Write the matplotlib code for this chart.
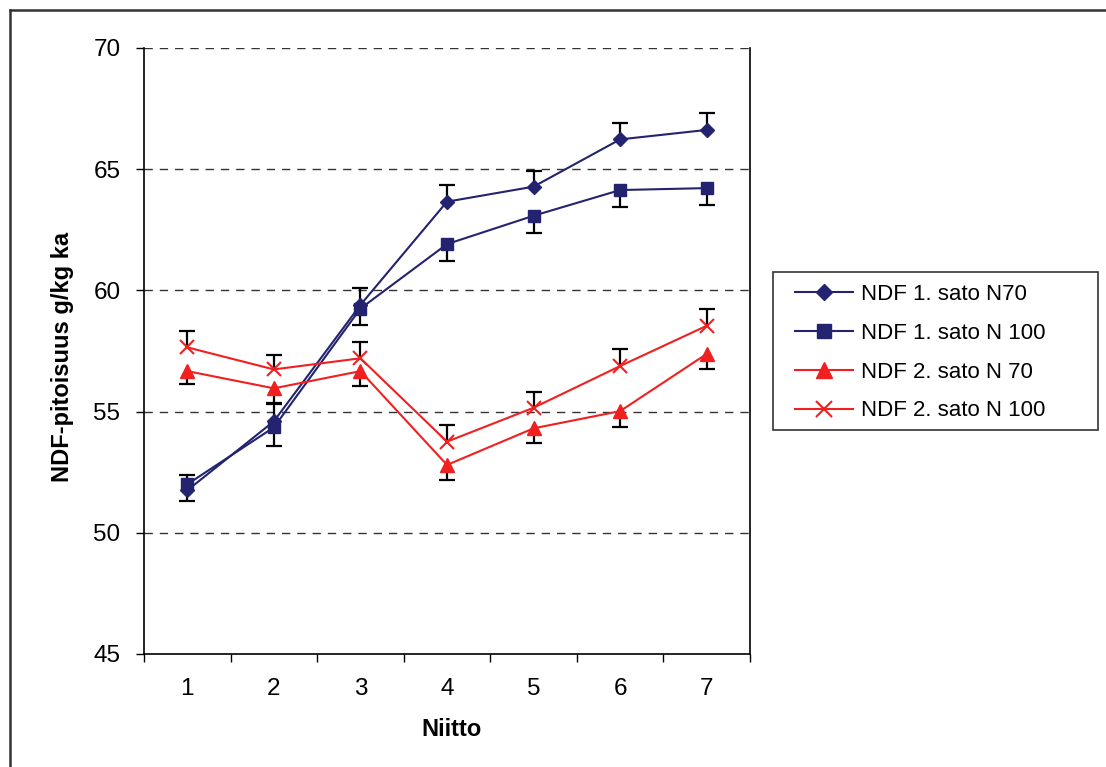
import matplotlib
matplotlib.use('Agg')
import matplotlib.pyplot as plt
from matplotlib.lines import Line2D
from matplotlib.patches import Rectangle
import numpy as np

plt.rcParams['font.family'] = ['Liberation Sans', 'DejaVu Sans']

# Data
niitto = [1, 2, 3, 4, 5, 6, 7]
ndf1_n70 = [51.75, 54.6, 59.4, 63.66, 64.28, 66.23, 66.62]
ndf1_n70_err = [0.65, 0.7, 0.7, 0.7, 0.66, 0.69, 0.68]      # shown upwards
ndf1_n100 = [52.0, 54.35, 59.25, 61.91, 63.08, 64.14, 64.22]
ndf1_n100_err = [0.7, 0.75, 0.68, 0.68, 0.7, 0.7, 0.7]      # shown downwards
ndf2_n70 = [56.67, 55.96, 56.67, 52.8, 54.31, 55.02, 57.38]
ndf2_n70_err = [0.55, 0.6, 0.6, 0.62, 0.62, 0.64, 0.63]     # shown downwards
ndf2_n100 = [57.65, 56.74, 57.2, 53.76, 55.16, 56.88, 58.54]
ndf2_n100_err = [0.68, 0.58, 0.66, 0.69, 0.66, 0.69, 0.69]  # shown upwards

labels = ["NDF 1. sato N70", "NDF 1. sato N 100", "NDF 2. sato N 70", "NDF 2. sato N 100"]
navy = '#23236f'
red = '#f02020'

W, H = 1106, 767
fig = plt.figure(figsize=(W / 100, H / 100), dpi=100)
ax = fig.add_axes([144 / W, 1 - 654 / H, 606 / W, 606 / H])


def err_bar(x, y, e, sign):
    x = np.array(x)
    y = np.array(y)
    end = y + sign * np.array(e)
    ax.vlines(x, y, end, color='black', linewidth=1.6, zorder=2)
    ax.plot(x, end, ls='', marker='_', ms=11.5, mew=1.6, color='black', zorder=2)


err_bar(niitto, ndf1_n70, ndf1_n70_err, 1)
err_bar(niitto, ndf1_n100, ndf1_n100_err, -1)
err_bar(niitto, ndf2_n70, ndf2_n70_err, -1)
err_bar(niitto, ndf2_n100, ndf2_n100_err, 1)

ax.plot(niitto, ndf1_n70, color=navy, lw=1.5, marker='D', ms=7.2, zorder=3, label=labels[0])
ax.plot(niitto, ndf1_n100, color=navy, lw=1.5, marker='s', ms=9, zorder=3, label=labels[1])
ax.plot(niitto, ndf2_n70, color=red, lw=1.5, marker='^', ms=10, zorder=3, label=labels[2])
ax.plot(niitto, ndf2_n100, color=red, lw=1.5, marker='x', ms=10, mew=1.5, zorder=3, label=labels[3])

ax.set_xlim(0.5, 7.5)
ax.set_ylim(45, 70)
ax.set_yticks([45, 50, 55, 60, 65, 70])
ax.set_xticks(np.arange(0.5, 8, 1))
ax.set_xticklabels([])
ax.set_xticks(niitto, minor=True)
ax.set_xticklabels([str(n) for n in niitto], minor=True)
ax.tick_params(axis='x', which='major', direction='out', length=6, width=1)
ax.tick_params(axis='x', which='minor', length=0, pad=17, labelsize=17.5)
ax.tick_params(axis='y', direction='out', length=6, width=1, pad=11, labelsize=17.5)

for v in [50, 55, 60, 65, 70]:
    ax.axhline(v, color='#333333', lw=1, dashes=(6, 5), zorder=1)
ax.spines['top'].set_visible(False)
for s in ['left', 'right', 'bottom']:
    ax.spines[s].set_linewidth(1.2)
    ax.spines[s].set_color('black')

ax.set_xlabel('Niitto', fontsize=17, fontweight='bold')
ax.xaxis.set_label_coords(0.508, -0.105)
ax.set_ylabel('NDF-pitoisuus g/kg ka', fontsize=17, fontweight='bold', va='center')
ax.yaxis.set_label_coords(-0.135, 0.49)

# legend box drawn separately, legend itself without frame
fig.add_artist(Rectangle((773 / W, 1 - 430 / H), 325 / W, 158 / H, transform=fig.transFigure,
                         fill=False, edgecolor='#333333', lw=1.2))
leg = fig.legend(loc='upper left', bbox_to_anchor=(795 / W, 1 - 284 / H),
                 bbox_transform=fig.transFigure, borderaxespad=0, borderpad=0,
                 fontsize=16, frameon=False, handlelength=2.6, markerscale=1.1,
                 handletextpad=0.36, labelspacing=0.8)

# outer chart frame (only left and top edges visible)
fig.add_artist(Line2D([10 / W, 10 / W], [0, 1 - 10 / H], color='#333333', lw=1.8))
fig.add_artist(Line2D([10 / W, 1], [1 - 10 / H, 1 - 10 / H], color='#333333', lw=1.8))

fig.savefig('out.png', dpi=100)
